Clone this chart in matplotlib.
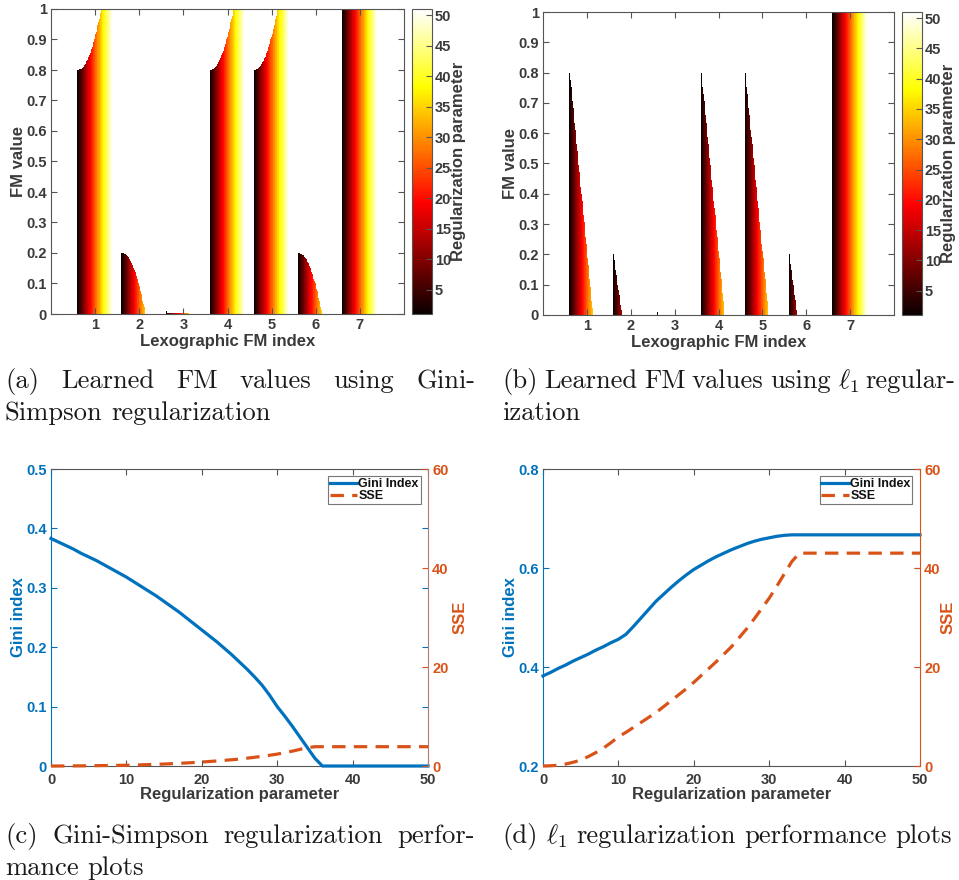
import numpy as np
import matplotlib
matplotlib.use("Agg")
import matplotlib.pyplot as plt
from matplotlib import colors, cm
from matplotlib.transforms import IdentityTransform

# regularization parameter values
lam = np.arange(0, 51)

# learned FM values, Gini-Simpson regularization (one list per lexographic index)
fm_gs_1 = [0.800, 0.800, 0.801, 0.802, 0.803, 0.804, 0.806, 0.808, 0.811, 0.814,
           0.817, 0.821, 0.825, 0.829, 0.834, 0.839, 0.844, 0.850, 0.856, 0.862,
           0.869, 0.876, 0.884, 0.892, 0.900, 0.908, 0.917, 0.926, 0.936, 0.946,
           0.956, 0.966, 0.977, 0.988, 1.000] + [1.0] * 16
fm_gs_2 = [0.200, 0.200, 0.199, 0.198, 0.197, 0.196, 0.194, 0.192, 0.189, 0.186,
           0.183, 0.179, 0.175, 0.171, 0.166, 0.161, 0.156, 0.150, 0.144, 0.138,
           0.131, 0.124, 0.116, 0.108, 0.100, 0.092, 0.083, 0.074, 0.064, 0.054,
           0.044, 0.034, 0.023, 0.012, 0.000] + [0.0] * 16
fm_gs_3 = [0.010, 0.006, 0.004, 0.003] + [0.002] * 30 + [0.0] * 17
fm_gs_7 = [1.0] * 51
fm_gs = [fm_gs_1, fm_gs_2, fm_gs_3, fm_gs_1, fm_gs_1, fm_gs_2, fm_gs_7]

# learned FM values, l1 regularization
fm_l1_1 = [0.800, 0.776, 0.753, 0.729, 0.706, 0.682, 0.659, 0.635, 0.612, 0.588,
           0.565, 0.541, 0.518, 0.494, 0.471, 0.447, 0.424, 0.400, 0.376, 0.353,
           0.329, 0.306, 0.282, 0.259, 0.235, 0.212, 0.188, 0.165, 0.141, 0.118,
           0.094, 0.071, 0.047, 0.024, 0.000] + [0.0] * 16
fm_l1_2 = [0.200, 0.183, 0.167, 0.150, 0.133, 0.117, 0.100, 0.083, 0.067, 0.050,
           0.033, 0.017, 0.000] + [0.0] * 38
fm_l1_3 = [0.010, 0.0] + [0.0] * 49
fm_l1_7 = [1.0] * 51
fm_l1 = [fm_l1_1, fm_l1_2, fm_l1_3, fm_l1_1, fm_l1_1, fm_l1_2, fm_l1_7]

# performance curves
gini_gs = [0.383, 0.377, 0.371, 0.365, 0.358, 0.352, 0.346, 0.339, 0.332, 0.325,
           0.318, 0.310, 0.302, 0.294, 0.286, 0.277, 0.268, 0.259, 0.249, 0.239,
           0.229, 0.219, 0.209, 0.198, 0.187, 0.175, 0.163, 0.150, 0.136, 0.119,
           0.100, 0.084, 0.067, 0.049, 0.031, 0.013, 0.0] + [0.0] * 14
sse_gs = [0.0, 0.0, 0.01, 0.02, 0.03, 0.05, 0.07, 0.09, 0.11, 0.13,
          0.15, 0.19, 0.24, 0.29, 0.34, 0.40, 0.47, 0.54, 0.62, 0.71,
          0.80, 0.91, 1.02, 1.14, 1.27, 1.40, 1.58, 1.76, 1.96, 2.17,
          2.40, 2.70, 3.00, 3.35, 3.70, 3.90] + [3.90] * 15
gini_l1 = [0.382, 0.389, 0.397, 0.404, 0.412, 0.419, 0.426, 0.434, 0.441, 0.449,
           0.456, 0.466, 0.482, 0.499, 0.516, 0.533, 0.547, 0.561, 0.574, 0.586,
           0.597, 0.606, 0.615, 0.623, 0.630, 0.637, 0.643, 0.649, 0.654, 0.658,
           0.661, 0.664, 0.666, 0.667] + [0.667] * 17
sse_l1 = [0.0, 0.05, 0.15, 0.4, 0.75, 1.2, 1.9, 2.7, 3.6, 4.7,
          5.9, 6.8, 7.8, 8.8, 9.8, 10.8, 12.0, 13.2, 14.4, 15.6,
          16.9, 18.3, 19.7, 21.1, 22.6, 24.1, 25.9, 27.7, 29.7, 31.8,
          33.9, 36.3, 38.8, 41.3, 43.0] + [43.0] * 16

fm_index = [1, 2, 3, 4, 5, 6, 7]
fm_yticks = [0, 0.1, 0.2, 0.3, 0.4, 0.5, 0.6, 0.7, 0.8, 0.9, 1]
fm_ylabels = ["0", "0.1", "0.2", "0.3", "0.4", "0.5", "0.6", "0.7", "0.8", "0.9", "1"]
cbar_ticks = [5, 10, 15, 20, 25, 30, 35, 40, 45, 50]
gs_gini_ticks = [0, 0.1, 0.2, 0.3, 0.4, 0.5]
gs_gini_labels = ["0", "0.1", "0.2", "0.3", "0.4", "0.5"]
l1_gini_ticks = [0.2, 0.4, 0.6, 0.8]
l1_gini_labels = ["0.2", "0.4", "0.6", "0.8"]
sse_ticks = [0, 20, 40, 60]
lam_ticks = [0, 10, 20, 30, 40, 50]

BLUE = "#0072BD"
ORANGE = "#D95319"
TXT = "#3a3a3a"
AXC = "#555555"

plt.rcParams["font.family"] = ["Liberation Sans", "DejaVu Sans"]
plt.rcParams["font.weight"] = "bold"
plt.rcParams["mathtext.fontset"] = "cm"

W, H = 959, 880
fig = plt.figure(figsize=(W / 100, H / 100), dpi=100)


def px_axes(l, t, r, b):
    return fig.add_axes([l / W, 1 - b / H, (r - l) / W, (b - t) / H])


norm = colors.Normalize(vmin=1, vmax=51)
cmap = plt.get_cmap("hot")


def fm_panel(ax, cax, groups):
    nb = len(lam)
    w = 0.8 / nb
    for i, vals in zip(fm_index, groups):
        xs = i - 0.4 + (lam + 0.5) * w
        cols = [cmap(norm(k + 1)) for k in lam]
        ax.bar(xs, vals, width=w * 1.35, color=cols, linewidth=0)
    ax.set_xlim(0, 8)
    ax.set_ylim(0, 1)
    ax.set_xticks(fm_index)
    ax.set_yticks(fm_yticks)
    ax.set_yticklabels(fm_ylabels)
    ax.tick_params(direction="in", length=4, width=0.8, color=AXC, labelcolor=TXT,
                   labelsize=10.5, top=True, right=True, pad=3)
    for s in ax.spines.values():
        s.set_color(AXC)
        s.set_linewidth(0.8)
    ax.set_xlabel("Lexographic FM index", fontsize=12, color=TXT, fontweight="bold", labelpad=1)
    ax.set_ylabel("FM value", fontsize=12, color=TXT, fontweight="bold", labelpad=0)
    cb = fig.colorbar(cm.ScalarMappable(norm=norm, cmap=cmap), cax=cax, ticks=cbar_ticks)
    cb.outline.set_edgecolor(AXC)
    cb.outline.set_linewidth(0.8)
    cax.tick_params(direction="in", length=4, width=0.8, color=AXC, labelcolor=TXT,
                    labelsize=10.5, pad=2)
    cb.set_label("Regularization parameter", fontsize=12, color=TXT, fontweight="bold", labelpad=0)


def perf_panel(ax, gini, sse, gticks, glabels, glim, right_col, sse_pad):
    ax2 = ax.twinx()
    ax.plot(lam, gini, color=BLUE, lw=2.3, clip_on=False, zorder=5, label="Gini Index")
    ax2.plot(lam, sse, color=ORANGE, lw=2.3, dashes=(4.2, 2.6), clip_on=False,
             label="SSE")
    ax.set_xlim(0, 50)
    ax.set_ylim(*glim)
    ax2.set_ylim(0, 60)
    ax.set_xticks(lam_ticks)
    ax.set_yticks(gticks)
    ax.set_yticklabels(glabels)
    ax2.set_yticks(sse_ticks)
    ax.tick_params(axis="x", direction="in", length=4, width=0.8, color=AXC,
                   labelcolor=TXT, labelsize=10.5, top=True, pad=5)
    ax.tick_params(axis="y", direction="in", length=4, width=0.8, color=BLUE,
                   labelcolor=BLUE, labelsize=10.5, right=True, pad=3)
    ax2.tick_params(axis="y", direction="in", length=4, width=0.8, color=ORANGE,
                    labelcolor=ORANGE, labelsize=10.5, pad=3)
    for k in ["top", "bottom"]:
        ax.spines[k].set_color(AXC)
        ax.spines[k].set_linewidth(0.8)
        ax2.spines[k].set_visible(False)
    ax.spines["left"].set_color(BLUE)
    ax.spines["left"].set_linewidth(0.8)
    ax.spines["right"].set_visible(False)
    ax2.spines["left"].set_visible(False)
    ax2.spines["right"].set_color(right_col)
    ax2.spines["right"].set_linewidth(0.8)
    ax.set_xlabel("Regularization parameter", fontsize=12, color=TXT, fontweight="bold", labelpad=0)
    ax.set_ylabel("Gini index", fontsize=12, color=BLUE, fontweight="bold", labelpad=0)
    ax2.set_ylabel("SSE", fontsize=12, color=ORANGE, fontweight="bold", labelpad=sse_pad)
    h1, l1 = ax.get_legend_handles_labels()
    h2, l2 = ax2.get_legend_handles_labels()
    leg = ax2.legend(h1 + h2, l1 + l2, loc="upper right", fontsize=9, frameon=True,
                     fancybox=False, edgecolor="#555555", handlelength=2.2,
                     handletextpad=0.1, borderpad=0.15, labelspacing=0.0,
                     borderaxespad=0.6)
    leg.get_frame().set_linewidth(0.8)
    for t in leg.get_texts():
        t.set_color("#111111")
        t.set_fontweight("bold")


ax_a = px_axes(51, 9, 404, 314)
cax_a = px_axes(412, 9, 432, 314)
fm_panel(ax_a, cax_a, fm_gs)

ax_b = px_axes(543, 12, 894, 315)
cax_b = px_axes(902, 12, 922, 315)
fm_panel(ax_b, cax_b, fm_l1)

ax_c = px_axes(51, 469, 428, 766)
perf_panel(ax_c, gini_gs, sse_gs, gs_gini_ticks, gs_gini_labels, (0, 0.5), "#b07a72", 3)

ax_d = px_axes(543, 469, 920, 766)
perf_panel(ax_d, gini_l1, sse_l1, l1_gini_ticks, l1_gini_labels, (0.2, 0.8), ORANGE, 0)

# captions (LaTeX-like serif, justified lines)
renderer = fig.canvas.get_renderer()
ident = IdentityTransform()
cap_kw = dict(family="cmr10", fontweight="normal", color="#1a1a1a", va="baseline", ha="left")

probe = fig.text(0, 0, r"(d) $\ell_1$ regularization performance plots", fontsize=18,
                 transform=ident, **cap_kw)
cap_size = 18 * 453 / probe.get_window_extent(renderer).width
probe.remove()


def cap_line(words, x0, y, x1=None):
    items = [fig.text(0, H - y, w, fontsize=cap_size, transform=ident, **cap_kw) for w in words]
    widths = [t.get_window_extent(renderer).width for t in items]
    if x1 is None or len(words) == 1:
        sp = fig.text(0, 0, "a a", fontsize=cap_size, transform=ident, **cap_kw)
        sp2 = fig.text(0, 0, "aa", fontsize=cap_size, transform=ident, **cap_kw)
        gap = sp.get_window_extent(renderer).width - sp2.get_window_extent(renderer).width
        sp.remove()
        sp2.remove()
    else:
        gap = (x1 - x0 - sum(widths)) / (len(words) - 1)
    x = x0
    for t, w in zip(items, widths):
        t.set_x(x)
        x += w + gap


cap_line(["(a)", "Learned", "FM", "values", "using", "Gini-"], 5, 388, 475)
cap_line(["Simpson", "regularization"], 5, 420)
cap_line(["(b)", "Learned", "FM", "values", "using", r"$\ell_1$", "regular-"], 502, 388, 955)
cap_line(["ization"], 502, 420)
cap_line(["(c)", "Gini-Simpson", "regularization", "perfor-"], 5, 843, 475)
cap_line(["mance", "plots"], 5, 875)
cap_line(["(d)", r"$\ell_1$", "regularization", "performance", "plots"], 502, 843)

fig.savefig("out.png", dpi=100)
